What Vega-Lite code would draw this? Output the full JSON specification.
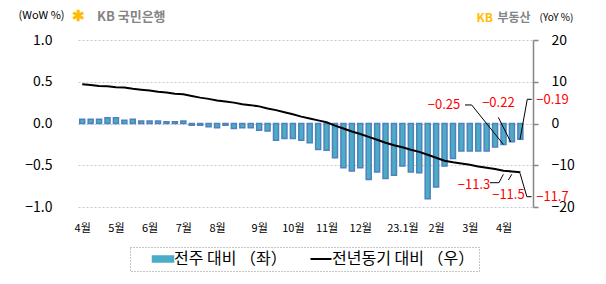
{
  "$schema": "https://vega.github.io/schema/vega-lite/v6.json",
  "width": 455,
  "height": 167,
  "autosize": {"type": "none"},
  "padding": {"left": 78, "top": 40, "right": 73, "bottom": 77},
  "config": {
    "font": "Noto Sans CJK KR",
    "view": {"stroke": null},
    "axis": {"labelFont": "Noto Sans CJK KR", "titleFont": "Noto Sans CJK KR", "labelColor": "#000000"},
    "axisX": {"labelOverlap": false, "labelFlush": false, "labelSeparation": 0},
    "legend": {
      "orient": "none",
      "legendX": 52,
      "legendY": 207,
      "direction": "horizontal",
      "padding": 4,
      "strokeColor": "#8c8c8c",
      "labelFont": "Noto Sans CJK KR",
      "labelFontSize": 16,
      "labelColor": "#000000",
      "symbolSize": 441,
      "symbolOffset": 21,
      "columnPadding": 5,
      "labelOffset": 3,
      "symbolType": "M-1,-0.29H1V0.29H-1Z"
    }
  },
  "title": {
    "text": "KB 국민은행",
    "anchor": "start",
    "frame": "group",
    "dx": 19,
    "dy": 16,
    "offset": 0,
    "color": "#858585",
    "fontSize": 13,
    "fontWeight": "bold"
  },
  "datasets": {
    "weekly": [
      {"i": 0, "wow": 0.05, "yoy": 9.4},
      {"i": 1, "wow": 0.05, "yoy": 9.2},
      {"i": 2, "wow": 0.05, "yoy": 9.0},
      {"i": 3, "wow": 0.07, "yoy": 8.9},
      {"i": 4, "wow": 0.07, "yoy": 8.7},
      {"i": 5, "wow": 0.04, "yoy": 8.6},
      {"i": 6, "wow": 0.05, "yoy": 8.3},
      {"i": 7, "wow": 0.03, "yoy": 8.1},
      {"i": 8, "wow": 0.03, "yoy": 7.9},
      {"i": 9, "wow": 0.03, "yoy": 7.6},
      {"i": 10, "wow": 0.02, "yoy": 7.4},
      {"i": 11, "wow": 0.02, "yoy": 7.1},
      {"i": 12, "wow": 0.03, "yoy": 7.0},
      {"i": 13, "wow": -0.02, "yoy": 6.6},
      {"i": 14, "wow": -0.02, "yoy": 6.2},
      {"i": 15, "wow": -0.04, "yoy": 5.9},
      {"i": 16, "wow": -0.05, "yoy": 5.5},
      {"i": 17, "wow": -0.02, "yoy": 5.25},
      {"i": 18, "wow": -0.06, "yoy": 5.0},
      {"i": 19, "wow": -0.05, "yoy": 4.6},
      {"i": 20, "wow": -0.05, "yoy": 4.4},
      {"i": 21, "wow": -0.08, "yoy": 4.1},
      {"i": 22, "wow": -0.09, "yoy": 3.6},
      {"i": 23, "wow": -0.2, "yoy": 3.2},
      {"i": 24, "wow": -0.18, "yoy": 2.7},
      {"i": 25, "wow": -0.18, "yoy": 2.2},
      {"i": 26, "wow": -0.2, "yoy": 1.65},
      {"i": 27, "wow": -0.23, "yoy": 1.2},
      {"i": 28, "wow": -0.31, "yoy": 0.75},
      {"i": 29, "wow": -0.32, "yoy": 0.3},
      {"i": 30, "wow": -0.41, "yoy": -0.5},
      {"i": 31, "wow": -0.53, "yoy": -1.2},
      {"i": 32, "wow": -0.57, "yoy": -1.9},
      {"i": 33, "wow": -0.53, "yoy": -2.5},
      {"i": 34, "wow": -0.67, "yoy": -3.2},
      {"i": 35, "wow": -0.58, "yoy": -3.9},
      {"i": 36, "wow": -0.66, "yoy": -4.6},
      {"i": 37, "wow": -0.62, "yoy": -5.2},
      {"i": 38, "wow": -0.51, "yoy": -5.7},
      {"i": 39, "wow": -0.58, "yoy": -6.3},
      {"i": 40, "wow": -0.59, "yoy": -6.8},
      {"i": 41, "wow": -0.9, "yoy": -7.5},
      {"i": 42, "wow": -0.76, "yoy": -8.2},
      {"i": 43, "wow": -0.51, "yoy": -8.9},
      {"i": 44, "wow": -0.42, "yoy": -9.3},
      {"i": 45, "wow": -0.33, "yoy": -9.6},
      {"i": 46, "wow": -0.33, "yoy": -9.9},
      {"i": 47, "wow": -0.33, "yoy": -10.3},
      {"i": 48, "wow": -0.33, "yoy": -10.6},
      {"i": 49, "wow": -0.28, "yoy": -10.9},
      {"i": 50, "wow": -0.25, "yoy": -11.3},
      {"i": 51, "wow": -0.22, "yoy": -11.5},
      {"i": 52, "wow": -0.19, "yoy": -11.7}
    ],
    "wowNotes": [
      {"i": 42.94, "v": 0.222, "value": -0.25},
      {"i": 49.39, "v": 0.251, "value": -0.22},
      {"i": 55.81, "v": 0.287, "value": -0.19}
    ],
    "wowLeaders": [
      {"id": "a", "k": 0, "i": 45.43, "v": 0.222},
      {"id": "a", "k": 1, "i": 46.22, "v": 0.222},
      {"id": "a", "k": 2, "i": 49.98, "v": -0.25},
      {"id": "b", "k": 0, "i": 49.38, "v": 0.074},
      {"id": "b", "k": 1, "i": 50.85, "v": -0.22},
      {"id": "c", "k": 0, "i": 53.35, "v": 0.29},
      {"id": "c", "k": 1, "i": 52.82, "v": 0.29},
      {"id": "c", "k": 2, "i": 51.96, "v": -0.19}
    ],
    "yoyNotes": [
      {"i": 46.5, "v": -14.73, "value": -11.3},
      {"i": 50.58, "v": -17.05, "value": -11.5},
      {"i": 55.81, "v": -17.53, "value": -11.7}
    ],
    "yoyLeaders": [
      {"id": "d", "k": 0, "i": 48.4, "v": -14.18},
      {"id": "d", "k": 1, "i": 49.46, "v": -14.18},
      {"id": "d", "k": 2, "i": 49.98, "v": -12.17},
      {"id": "e", "k": 0, "i": 50.58, "v": -13.53},
      {"id": "e", "k": 1, "i": 50.98, "v": -12.17},
      {"id": "f", "k": 0, "i": 53.33, "v": -17.53},
      {"id": "f", "k": 1, "i": 52.77, "v": -17.53},
      {"id": "f", "k": 2, "i": 51.96, "v": -11.93}
    ]
  },
  "layer": [
    {
      "layer": [
        {
          "data": {"name": "weekly"},
          "mark": {"type": "bar", "width": 5, "stroke": "#4f81bd", "strokeWidth": 1.5},
          "encoding": {
            "x": {
              "field": "i",
              "type": "quantitative",
              "scale": {"domain": [-0.5, 53.5], "nice": false, "zero": false, "padding": 0},
              "axis": {
                "orient": "bottom",
                "values": [0, 4, 8, 12, 16, 21, 25, 29, 33, 38, 42, 46, 50],
                "tickCount": 60,
                "labelExpr": "datum.value == 0 ? '4월' : datum.value == 4 ? '5월' : datum.value == 8 ? '6월' : datum.value == 12 ? '7월' : datum.value == 16 ? '8월' : datum.value == 21 ? '9월' : datum.value == 25 ? '10월' : datum.value == 29 ? '11월' : datum.value == 33 ? '12월' : datum.value == 38 ? '23.1월' : datum.value == 42 ? '2월' : datum.value == 46 ? '3월' : '4월'",
                "domain": false,
                "ticks": false,
                "grid": false,
                "labelFontSize": 11,
                "labelPadding": 15,
                "labelFlush": false,
                "labelOverlap": false,
                "labelSeparation": 0,
                "title": "부동산",
                "titleX": 419,
                "titleY": -190,
                "titleAlign": "left",
                "titleBaseline": "middle",
                "titleAngle": 0,
                "titleColor": "#858585",
                "titleFontSize": 12,
                "titleFontWeight": "bold"
              }
            },
            "y": {
              "field": "wow",
              "type": "quantitative",
              "scale": {"domain": [-1, 1], "nice": false, "zero": false},
              "axis": {
                "orient": "left",
                "values": [-1, -0.5, 0, 0.5, 1],
                "format": ".1f",
                "domain": false,
                "ticks": false,
                "grid": true,
                "gridColor": "#c8c8c8",
                "gridDash": [2, 2],
                "labelFontSize": 14,
                "labelPadding": 26,
                "title": "(WoW %)",
                "titleAngle": 0,
                "titleX": -60,
                "titleY": -25,
                "titleAlign": "left",
                "titleBaseline": "middle",
                "titleFontSize": 11,
                "titleFontWeight": "normal",
                "titleColor": "#000000"
              }
            },
            "color": {
              "datum": "전주 대비 （좌）",
              "scale": {"domain": ["전주 대비 （좌）", "전년동기 대비 （우）"], "range": ["#4bacc6", "#000000"]},
              "legend": {
                "title": null,
                "encode": {
                  "legend": {"update": {"strokeDash": {"value": [1, 2]}}},
                  "symbols": {
                    "update": {
                      "shape": {"signal": "datum.value === '전년동기 대비 （우）' ? 'M-1,0H1' : 'M-1,-0.29H1V0.29H-1Z'"},
                      "fill": {"signal": "datum.value === '전년동기 대비 （우）' ? 'transparent' : '#4bacc6'"},
                      "stroke": {"signal": "datum.value === '전년동기 대비 （우）' ? '#000000' : '#4f81bd'"},
                      "strokeWidth": {"signal": "datum.value === '전년동기 대비 （우）' ? 2 : 1.5"},
                      "opacity": {"value": 1}
                    }
                  }
                }
              }
            }
          }
        },
        {
          "mark": {"type": "rule", "color": "#868686", "strokeWidth": 1.5},
          "encoding": {"y": {"datum": 0}}
        },
        {
          "data": {"name": "wowLeaders"},
          "mark": {"type": "line", "color": "#000000", "strokeWidth": 1},
          "encoding": {
            "x": {"field": "i", "type": "quantitative"},
            "y": {"field": "v", "type": "quantitative"},
            "detail": {"field": "id"},
            "order": {"field": "k"}
          }
        },
        {
          "data": {"name": "wowNotes"},
          "mark": {"type": "text", "color": "#ff0000", "fontSize": 13, "baseline": "middle"},
          "encoding": {
            "x": {"field": "i", "type": "quantitative"},
            "y": {"field": "v", "type": "quantitative"},
            "text": {"field": "value", "format": ".2f"}
          }
        }
      ]
    },
    {
      "layer": [
        {
          "data": {"name": "weekly"},
          "mark": {"type": "line", "strokeWidth": 2},
          "encoding": {
            "x": {
              "field": "i",
              "type": "quantitative",
              "scale": {"domain": [-0.5, 53.5], "nice": false, "zero": false, "padding": 0},
              "axis": {
                "orient": "top",
                "values": [-0.5],
                "labelExpr": "'✱'",
                "labelColor": "#ffbc00",
                "labelFontSize": 15,
                "labelFontWeight": "bold",
                "labelPadding": 25,
                "labelBaseline": "middle",
                "labelBound": false,
                "ticks": false,
                "domain": false,
                "grid": false,
                "title": "KB",
                "titleX": 398,
                "titleY": -23,
                "titleAlign": "left",
                "titleBaseline": "middle",
                "titleAngle": 0,
                "titleColor": "#ffbc00",
                "titleFontSize": 12,
                "titleFontWeight": "bold"
              }
            },
            "y": {
              "field": "yoy",
              "type": "quantitative",
              "scale": {"domain": [-20, 20], "nice": false, "zero": false},
              "axis": {
                "orient": "right",
                "values": [-20, -10, 0, 10, 20],
                "domain": true,
                "domainColor": "#868686",
                "domainWidth": 1.5,
                "ticks": true,
                "tickColor": "#868686",
                "tickSize": 5,
                "tickWidth": 1.5,
                "grid": false,
                "labelFontSize": 14,
                "labelPadding": 13,
                "title": "(YoY %)",
                "titleAngle": 0,
                "titleX": 6,
                "titleY": -23,
                "titleAlign": "left",
                "titleBaseline": "middle",
                "titleFontSize": 10,
                "titleFontWeight": "normal",
                "titleColor": "#000000"
              }
            },
            "color": {
              "datum": "전년동기 대비 （우）",
              "legend": {
                "title": null,
                "encode": {
                  "legend": {"update": {"strokeDash": {"value": [1, 2]}}},
                  "symbols": {
                    "update": {
                      "shape": {"signal": "datum.value === '전년동기 대비 （우）' ? 'M-1,0H1' : 'M-1,-0.29H1V0.29H-1Z'"},
                      "fill": {"signal": "datum.value === '전년동기 대비 （우）' ? 'transparent' : '#4bacc6'"},
                      "stroke": {"signal": "datum.value === '전년동기 대비 （우）' ? '#000000' : '#4f81bd'"},
                      "strokeWidth": {"signal": "datum.value === '전년동기 대비 （우）' ? 2 : 1.5"},
                      "opacity": {"value": 1}
                    }
                  }
                }
              }
            }
          }
        },
        {
          "data": {"name": "yoyLeaders"},
          "mark": {"type": "line", "color": "#000000", "strokeWidth": 1},
          "encoding": {
            "x": {"field": "i", "type": "quantitative"},
            "y": {"field": "v", "type": "quantitative"},
            "detail": {"field": "id"},
            "order": {"field": "k"}
          }
        },
        {
          "data": {"name": "yoyNotes"},
          "mark": {"type": "text", "color": "#ff0000", "fontSize": 13, "baseline": "middle"},
          "encoding": {
            "x": {"field": "i", "type": "quantitative"},
            "y": {"field": "v", "type": "quantitative"},
            "text": {"field": "value", "format": ".1f"}
          }
        }
      ]
    }
  ],
  "resolve": {"scale": {"x": "independent", "y": "independent"}}
}
